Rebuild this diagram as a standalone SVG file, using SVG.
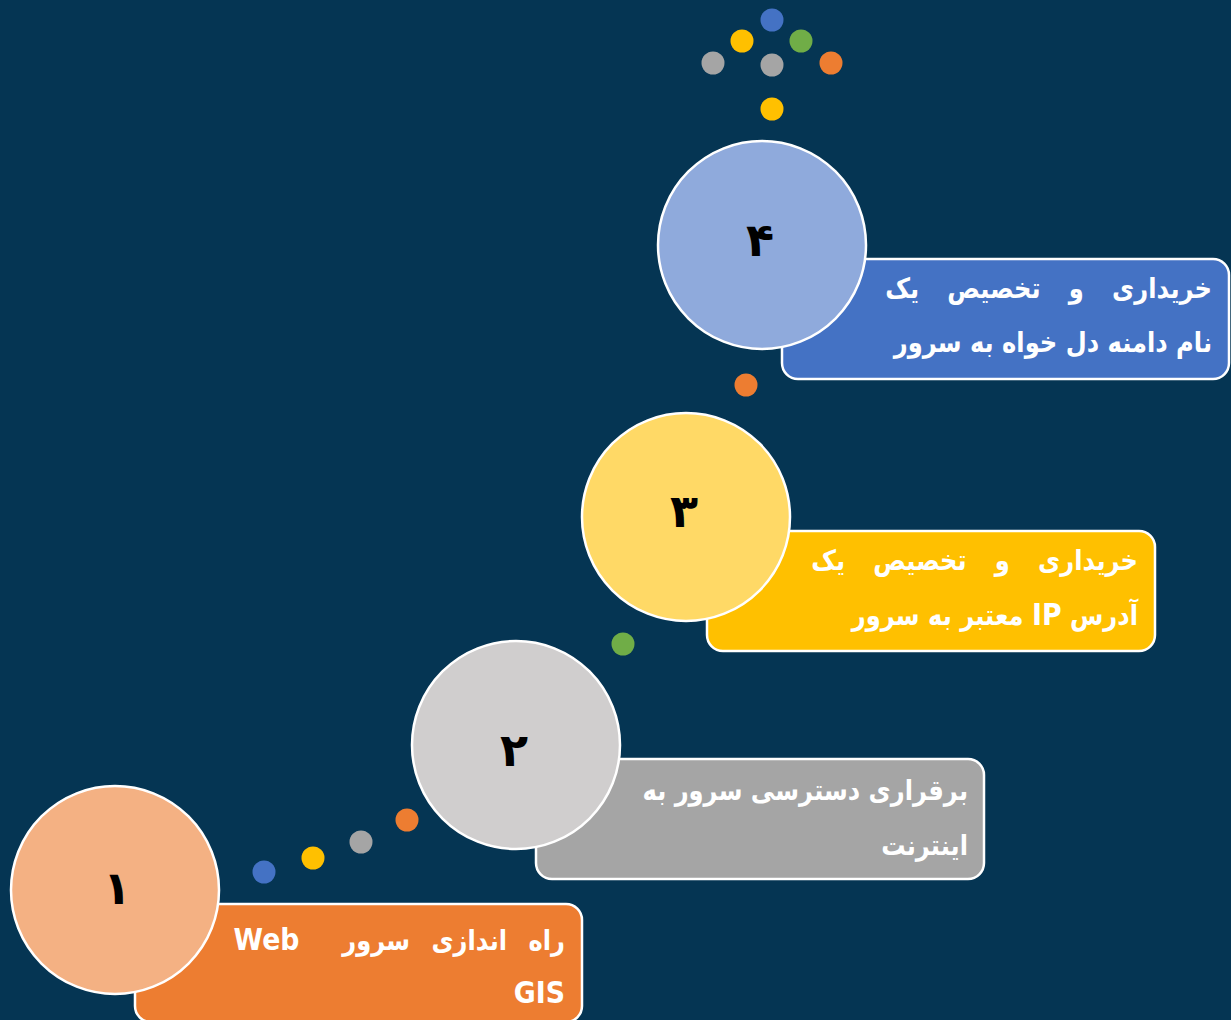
<svg xmlns="http://www.w3.org/2000/svg" width="1231" height="1020" viewBox="0 0 1231 1020">
<style>
.box{stroke:#FFFFFF;stroke-width:2.5}
.disc{stroke:#FFFFFF;stroke-width:2.5}
.lbl{font-family:"DejaVu Sans","Noto Sans",sans-serif;font-weight:bold;font-size:28px;fill:#FFFFFF;direction:rtl;unicode-bidi:embed;white-space:pre}
.lat{font-size:31px}
.num{font-family:"DejaVu Sans","Noto Sans",sans-serif;font-weight:bold;font-size:46px;fill:#000000;text-anchor:middle}
</style>
<rect x="0" y="0" width="1231" height="1020" fill="#053553"/>
<g id="connectors">
<g id="dots-bottom">
<ellipse cx="264" cy="872" rx="11.5" ry="11.5" fill="#4472C4"/>
<ellipse cx="313" cy="858" rx="11.5" ry="11.5" fill="#FFC000"/>
<ellipse cx="361" cy="842" rx="11.5" ry="11.5" fill="#A5A5A5"/>
<ellipse cx="407" cy="820" rx="11.5" ry="11.5" fill="#ED7D31"/>
</g>
<ellipse cx="623" cy="644" rx="11.5" ry="11.5" fill="#70AD47"/>
<ellipse cx="746" cy="385" rx="11.5" ry="11.5" fill="#ED7D31"/>
<ellipse cx="772" cy="109" rx="11.5" ry="11.5" fill="#FFC000"/>
<g id="dots-top">
<ellipse cx="772" cy="20" rx="11.5" ry="11.5" fill="#4472C4"/>
<ellipse cx="742" cy="41" rx="11.5" ry="11.5" fill="#FFC000"/>
<ellipse cx="801" cy="41" rx="11.5" ry="11.5" fill="#70AD47"/>
<ellipse cx="713" cy="63" rx="11.5" ry="11.5" fill="#A5A5A5"/>
<ellipse cx="772" cy="65" rx="11.5" ry="11.5" fill="#A5A5A5"/>
<ellipse cx="831" cy="63" rx="11.5" ry="11.5" fill="#ED7D31"/>
</g>
</g>
<g id="step1">
<rect class="box" x="135" y="904" width="447" height="118" rx="16" fill="#ED7D31"/>
<circle class="disc" cx="115" cy="890" r="104" fill="#F4B183"/>
<text class="num" x="117" y="904">۱</text>
<text class="lbl" transform="translate(565,950) scale(0.864,1)" x="0" y="0" word-spacing="15">راه اندازی سرور  <tspan class="lat">Web</tspan></text>
<text class="lbl" transform="translate(565,1003) scale(0.864,1)" x="0" y="0"><tspan class="lat">GIS</tspan></text>
</g>
<g id="step2">
<rect class="box" x="536" y="759" width="448" height="120" rx="16" fill="#A5A5A5"/>
<circle class="disc" cx="516" cy="745" r="104" fill="#D0CECE"/>
<text class="num" x="514" y="766">۲</text>
<text class="lbl" transform="translate(968,800) scale(0.864,1)" x="0" y="0">برقراری دسترسی سرور به</text>
<text class="lbl" transform="translate(968,855) scale(0.864,1)" x="0" y="0">اینترنت</text>
</g>
<g id="step3">
<rect class="box" x="707" y="531" width="448" height="120" rx="16" fill="#FFC000"/>
<circle class="disc" cx="686" cy="517" r="104" fill="#FFD966"/>
<text class="num" x="684" y="527">۳</text>
<text class="lbl" transform="translate(1138,570) scale(0.864,1)" x="0" y="0" word-spacing="23">خریداری و تخصیص یک</text>
<text class="lbl" transform="translate(1138,625) scale(0.864,1)" x="0" y="0">آدرس <tspan class="lat">IP</tspan> معتبر به سرور</text>
</g>
<g id="step4">
<rect class="box" x="782" y="259" width="447" height="120" rx="16" fill="#4472C4"/>
<circle class="disc" cx="762" cy="245" r="104" fill="#8FAADC"/>
<text class="num" x="760" y="256">۴</text>
<text class="lbl" transform="translate(1212,298) scale(0.864,1)" x="0" y="0" word-spacing="23">خریداری و تخصیص یک</text>
<text class="lbl" transform="translate(1212,352) scale(0.864,1)" x="0" y="0">نام دامنه دل خواه به سرور</text>
</g>
</svg>
